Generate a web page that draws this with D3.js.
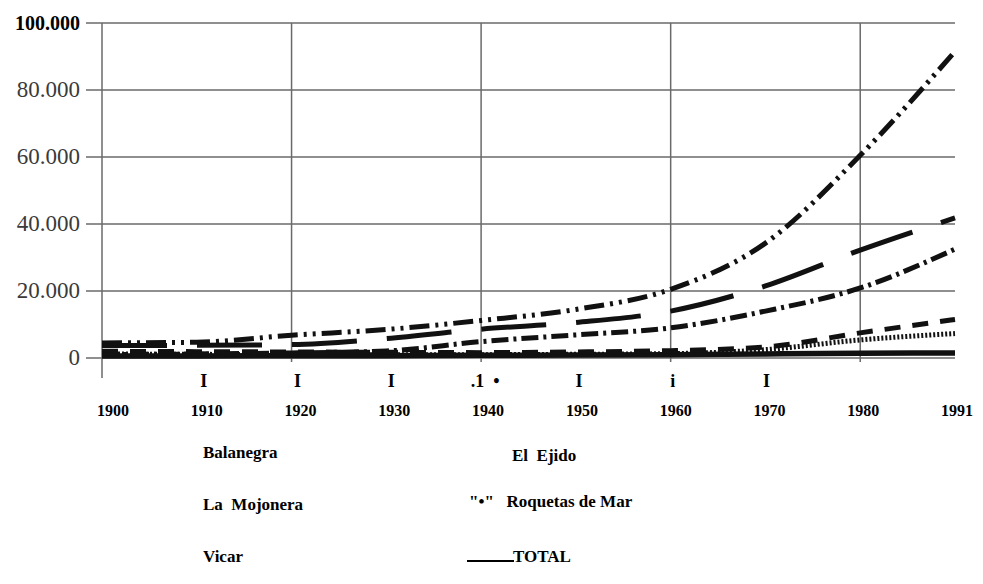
<!DOCTYPE html>
<html>
<head>
<meta charset="utf-8">
<script src="https://cdn.jsdelivr.net/npm/d3@7"></script>
<style>
  body { margin: 0; background: #fff; }
  svg text { font-family: "Liberation Serif", "DejaVu Serif", "Times New Roman", serif; }
</style>
</head>
<body>
<div id="chart"></div>
<script>
// census years on the x axis
const years = [1900, 1910, 1920, 1930, 1940, 1950, 1960, 1970, 1980, 1991];
const yTicks = [0, 20000, 40000, 60000, 80000, 100000];
const gridYears = [1900, 1920, 1940, 1960, 1980];

// population
const total     = [4500, 4700, 6800, 8500, 11200, 14500, 20500, 34300, 60500, 91500];
const elEjido   = [3700, 3800, 4000, 5800, 8600, 10600, 14000, 21500, 32200, 41800];
const roquetas  = [1000, 1200, 1500, 2100, 4900, 6900, 9000, 14000, 20900, 32500];
const vicar     = [2000, 1900, 1800, 1700, 1600, 1800, 2200, 3300, 7500, 11500];
const mojonera  = [1200, 1100, 1000, 1000, 1000, 1100, 1300, 2500, 5400, 7300];
const balanegra = [600, 600, 700, 700, 800, 900, 1000, 1200, 1400, 1500];

// stray marks printed between the axis and the year labels
const markYears = [1910, 1920, 1930, 1940, 1950, 1960, 1970];
const markTexts = ["I", "I", "I", ".1  \u2022", "I", "i", "I"];

const legendLeft = ["Balanegra", "La  Mojonera", "Vicar"];
const legendRight = ["El  Ejido", "\"\u2022\"   Roquetas de Mar", "TOTAL"];

const series = [
  { name: "Balanegra", values: balanegra, dash: null, width: 5.5 },
  { name: "La Mojonera", values: mojonera, dash: "2,2", width: 5 },
  { name: "Vicar", values: vicar, dash: "16,12", width: 5 },
  { name: "Roquetas de Mar", values: roquetas, dash: "17,5,3,5", width: 5 },
  { name: "El Ejido", values: elEjido, dash: "65,30", width: 5 },
  { name: "TOTAL", values: total, dash: "20,6,3,6,3,6", width: 5 }
];

const width = 983, height = 584;
const serif = "'Liberation Serif', 'DejaVu Serif', 'Times New Roman', serif";

const svg = d3.select("#chart").append("svg")
  .attr("width", width)
  .attr("height", height)
  .attr("font-family", serif);

const x = d3.scalePoint().domain(years).range([102, 955]);
const xLabel = d3.scalePoint().domain(years).range([113, 957]);
const y = d3.scaleLinear().domain([0, 100000]).range([358, 23]);

const fmt = d3.formatLocale({ decimal: ",", thousands: ".", grouping: [3], currency: ["", ""] }).format(",d");

// horizontal grid
svg.selectAll(".hgrid")
  .data(yTicks)
  .join("line")
  .attr("x1", 86)
  .attr("x2", 955)
  .attr("y1", d => y(d))
  .attr("y2", d => y(d))
  .attr("stroke", "#6a6a6a")
  .attr("stroke-width", 1.5);

// vertical grid
svg.selectAll(".vgrid")
  .data(gridYears)
  .join("line")
  .attr("x1", d => x(d))
  .attr("x2", d => x(d))
  .attr("y1", y(100000))
  .attr("y2", (d, i) => i === 0 ? 378 : y(0) + 4)
  .attr("stroke", "#6a6a6a")
  .attr("stroke-width", 1.5);

// y labels
svg.selectAll(".ylab")
  .data(yTicks)
  .join("text")
  .attr("x", 80)
  .attr("y", d => y(d) + 7)
  .attr("text-anchor", "end")
  .style("font-family", serif)
  .style("font-size", d => d === 100000 ? "20px" : "23px")
  .style("font-weight", d => d === 100000 ? "bold" : "normal")
  .style("fill", d => d === 100000 ? "#000" : "#3a3a3a")
  .text(d => fmt(d));

// the lines
const line = d3.line()
  .x((d, i) => x(years[i]))
  .y(d => y(d))
  .curve(d3.curveMonotoneX);

svg.selectAll(".series")
  .data(series)
  .join("path")
  .attr("d", d => line(d.values))
  .attr("fill", "none")
  .attr("stroke", "#111")
  .attr("stroke-width", d => d.width)
  .attr("stroke-dasharray", d => d.dash);

// marks row
svg.selectAll(".mark")
  .data(markYears)
  .join("text")
  .attr("x", d => xLabel(d) - 3)
  .attr("y", 387)
  .attr("text-anchor", "middle")
  .style("font-family", serif)
  .style("white-space", "pre")
  .style("font-size", "18px")
  .style("font-weight", "bold")
  .text((d, i) => markTexts[i]);

// year labels
svg.selectAll(".xlab")
  .data(years)
  .join("text")
  .attr("x", d => xLabel(d))
  .attr("y", 416)
  .attr("text-anchor", "middle")
  .style("font-family", serif)
  .style("font-size", "16px")
  .style("font-weight", "bold")
  .text(d => d);

// legend
svg.selectAll(".legL")
  .data(legendLeft)
  .join("text")
  .attr("x", 203)
  .attr("y", (d, i) => 458 + i * 52)
  .style("font-family", serif)
  .style("white-space", "pre")
  .style("font-size", "17px")
  .style("font-weight", "bold")
  .text(d => d);

svg.selectAll(".legR")
  .data(legendRight)
  .join("text")
  .attr("x", (d, i) => i === 0 ? 512 : i === 1 ? 469 : 513)
  .attr("y", (d, i) => [461, 507, 562][i])
  .style("font-family", serif)
  .style("white-space", "pre")
  .style("font-size", "17px")
  .style("font-weight", "bold")
  .text(d => d);

svg.append("line")
  .attr("x1", 467)
  .attr("x2", 514)
  .attr("y1", 561)
  .attr("y2", 561)
  .attr("stroke", "#000")
  .attr("stroke-width", 2);
</script>
</body>
</html>
